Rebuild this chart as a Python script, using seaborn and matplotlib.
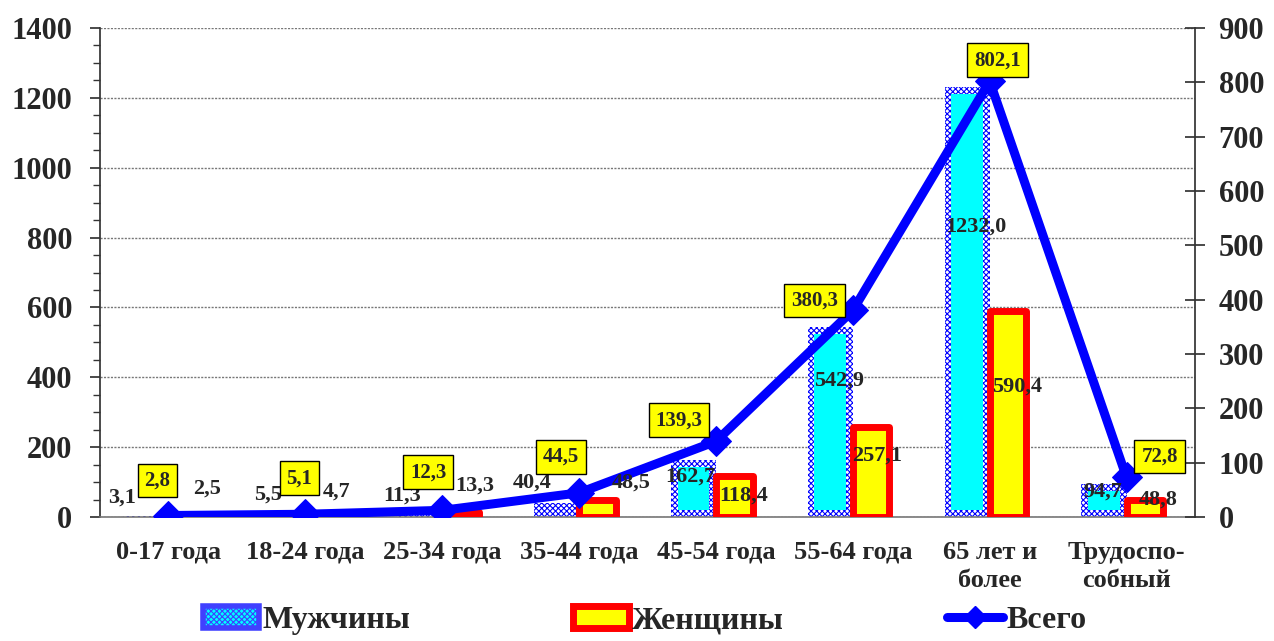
import numpy as np
import pandas as pd
import matplotlib
matplotlib.use("Agg")
import matplotlib.pyplot as plt
import seaborn as sns
from matplotlib.patches import Rectangle, Patch
from matplotlib.lines import Line2D

# ---- data ----
categories = ["0-17 года", "18-24 года", "25-34 года", "35-44 года", "45-54 года",
              "55-64 года", "65 лет и\nболее", "Трудоспо-\nсобный"]
men = [3.1, 5.5, 11.3, 40.4, 162.7, 542.9, 1232.0, 94.7]
women = [2.5, 4.7, 13.3, 48.5, 118.4, 257.1, 590.4, 48.8]
total = [2.8, 5.1, 12.3, 44.5, 139.3, 380.3, 802.1, 72.8]
series_names = ["Мужчины", "Женщины", "Всего"]

# ---- label layout (positions only) ----
men_lab_dx = [-0.34, -0.27, -0.29, -0.34, -0.19, -0.10, -0.10, -0.175]
men_lab_y = [57, 63, 60, 100, 115, 392, 831, 72]
women_lab_dx = [0.28, 0.23, 0.24, 0.38, 0.20, 0.175, 0.20, 0.23]
women_lab_y = [80, 72, 89, 98, 60, 175, 372, 49]
box_dx = [-11, -6, -14, -18, -37, -38, 8, 33]
box_dy = [35, 36, 38, 36, 21, 10, 21, 21]

def fmt(v):
    return f"{v:.1f}".replace(".", ",")

sns.set_theme(style="white")
plt.rcParams["font.family"] = ["Liberation Serif", "DejaVu Serif"]
plt.rcParams["font.weight"] = "bold"
plt.rcParams["hatch.linewidth"] = 0.8

fig = plt.figure(figsize=(12.74, 6.41), dpi=100)
ax = fig.add_axes([0.0785, 0.1934, 0.8595, 0.7629])

df = pd.DataFrame({
    "cat": categories * 2,
    "val": men + women,
    "ser": [series_names[0]] * len(categories) + [series_names[1]] * len(categories),
})
sns.barplot(data=df, x="cat", y="val", hue="ser", order=categories,
            hue_order=series_names[:2], width=0.66, dodge=True, ax=ax,
            legend=False, errorbar=None, saturation=1)

n = len(categories)
patches = list(ax.patches)
men_patches = patches[:n]
women_patches = patches[n:2 * n]

mx = 0.05    # border thickness in x data units
my = 20      # border thickness in y data units
for p in men_patches:
    p.set_facecolor("white")
    p.set_edgecolor("#0000ff")
    p.set_hatch("xxxxxx")
    p.set_linewidth(0)
    p.set_zorder(2)
    x0, w, h = p.get_x(), p.get_width(), p.get_height()
    ih = h - 2 * my
    if ih > 0:
        ax.add_patch(Rectangle((x0 + mx, my), w - 2 * mx, ih, facecolor="#00ffff",
                               edgecolor="none", zorder=2.1))
for p in women_patches:
    c = p.get_x() + p.get_width() / 2 - 0.03
    p.set_width(0.265)
    p.set_x(c - 0.265 / 2)
    p.set_facecolor("#ffff00")
    p.set_edgecolor("#ff0000")
    p.set_linewidth(5)
    p.set_joinstyle("round")
    p.set_zorder(3)

ax.set_ylim(0, 1400)
ax.set_xlim(-0.5, n - 0.5)
ax.set_yticks(np.arange(0, 1401, 200))
ax.set_yticks(np.arange(0, 1401, 50), minor=True)
ax.set_xticks(np.arange(n))
ax.set_xticklabels(categories, fontsize=19, fontweight="bold", linespacing=1.3)
ax.set_xticks(np.arange(n + 1) - 0.5, minor=True)
ax.tick_params(axis="x", which="major", length=0, pad=17)
ax.tick_params(axis="x", which="minor", length=7, direction="out", color="#333333", width=1)
ax.tick_params(axis="y", which="major", length=7, direction="out", color="#333333",
               labelsize=22, pad=13)
ax.tick_params(axis="y", which="minor", length=5, direction="out", color="#333333", left=True)
for lab in ax.get_yticklabels():
    lab.set_fontweight("bold")
ax.set_xlabel("")
ax.set_ylabel("")
ax.yaxis.grid(True, which="major", linestyle=(0, (1.5, 1)), color="#777777", linewidth=1)
ax.set_axisbelow(True)
for s in ["top", "right"]:
    ax.spines[s].set_visible(False)
ax.spines["left"].set_color("#333333")
ax.spines["bottom"].set_color("#777777")
ax.spines["bottom"].set_linewidth(1.2)

# line on right axis
ax2 = ax.twinx()
ax2.set_position(ax.get_position())
sns.lineplot(x=np.arange(n), y=total, ax=ax2, color="#0000ff", linewidth=6.5,
             marker="D", markersize=15, markeredgecolor="#0000ff", sort=False, zorder=5)
ax2.set_ylim(0, 900)
ax2.set_yticks(np.arange(0, 901, 100))
ax2.tick_params(axis="y", which="major", length=14, direction="inout", color="#333333",
                labelsize=22, pad=10)
for lab in ax2.get_yticklabels():
    lab.set_fontweight("bold")
ax2.set_ylabel("")
ax2.grid(False)
for s in ["top", "left", "bottom"]:
    ax2.spines[s].set_visible(False)
ax2.spines["right"].set_color("#333333")

# bar labels (drawn on top axis so they sit above everything)
for i in range(n):
    ax2.text(i + men_lab_dx[i], men_lab_y[i], fmt(men[i]), ha="center", va="center",
             fontsize=16, fontweight="bold", zorder=6, transform=ax.transData)
    ax2.text(i + women_lab_dx[i], women_lab_y[i], fmt(women[i]), ha="center", va="center",
             fontsize=16, fontweight="bold", zorder=6, transform=ax.transData)

for i in range(n):
    ax2.annotate(fmt(total[i]), (i, total[i]), xytext=(box_dx[i], box_dy[i]),
                 textcoords="offset pixels", ha="center", va="center",
                 fontsize=15, fontweight="bold", zorder=7,
                 bbox=dict(boxstyle="square,pad=0.33", fc="#ffff00", ec="black", lw=1))

# legend
h_men = Patch(facecolor="#00ffff", edgecolor="#4040ff", linewidth=4, hatch="xxxxxx")
h_women = Patch(facecolor="#ffff00", edgecolor="#ff0000", linewidth=5)
h_total = Line2D([0], [0], color="#0000ff", linewidth=6.5, marker="D", markersize=11)
fig.legend([h_men, h_women, h_total], series_names, loc="center",
           bbox_to_anchor=(0.506, 0.032), ncol=3, frameon=False,
           prop={"size": 23, "weight": "bold"}, columnspacing=5.1,
           handlelength=1.75, handletextpad=0.1, borderaxespad=0)

fig.savefig("out.png", dpi=100)
